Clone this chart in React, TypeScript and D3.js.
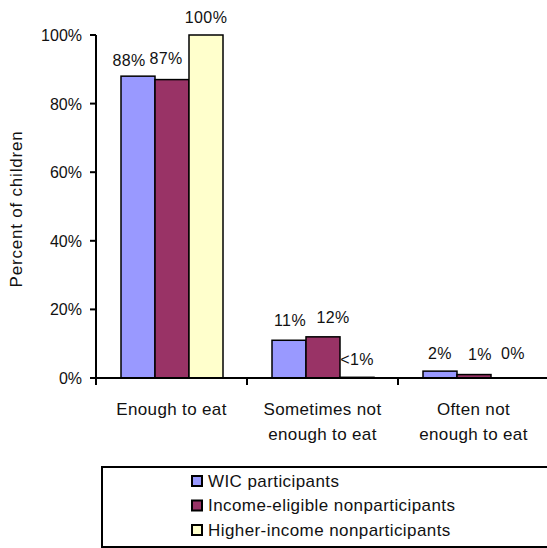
import React from "react";
import * as d3 from "d3";

// Food sufficiency by WIC participation status
const categories = ["Enough to eat", "Sometimes not enough to eat", "Often not enough to eat"];
const categoryLines = [["Enough to eat"], ["Sometimes not", "enough to eat"], ["Often not", "enough to eat"]];
const series = ["WIC participants", "Income-eligible nonparticipants", "Higher-income nonparticipants"];
const wicValues = [88, 11, 2];
const eligibleValues = [87, 12, 1];
const higherValues = [100, 0.2, 0];
const valueLabels = [
  ["88%", "87%", "100%"],
  ["11%", "12%", "<1%"],
  ["2%", "1%", "0%"],
];
const yTicks = [0, 20, 40, 60, 80, 100];

const colors = ["#9999FF", "#993366", "#FFFFCC"];
// label nudges [dx, dy] so neighbouring labels don't collide
const labelNudge = [
  [[-9, 0], [-6, -6], [0, -2]],
  [[1, -4], [10, -4], [0, -2]],
  [[0, -2], [6, -5], [5, -9]],
];

const W = 547;
const H = 548;
const FONT = "'Liberation Sans', Arial, sans-serif";

export default function App() {
  const values = [wicValues, eligibleValues, higherValues];
  const y = d3.scaleLinear().domain([0, 100]).range([378, 35]);
  const x0 = d3.scaleBand<string>().domain(categories).range([96, 549]);
  const x1 = d3.scaleBand<string>().domain(series).range([25, 127]);
  const fmt = d3.format(".0%");

  return (
    <svg
      width={W}
      height={H}
      style={{ position: "absolute", left: 0, top: 0, background: "#fff" }}
      fontFamily={FONT}
    >
      {/* bars */}
      {categories.map((c, ci) =>
        series.map((s, si) => {
          const v = values[si][ci];
          const bx = (x0(c) ?? 0) + (x1(s) ?? 0);
          return (
            <rect
              key={c + s}
              x={bx}
              y={y(v)}
              width={x1.bandwidth()}
              height={y(0) - y(v)}
              fill={colors[si]}
              stroke="#000"
              strokeWidth={1.5}
            />
          );
        })
      )}
      {/* value labels */}
      {categories.map((c, ci) =>
        series.map((s, si) => {
          const v = values[si][ci];
          const cx = (x0(c) ?? 0) + (x1(s) ?? 0) + x1.bandwidth() / 2;
          const [dx, dy] = labelNudge[ci][si];
          return (
            <text
              key={"l" + c + s}
              x={cx + dx}
              y={y(v) - 10 + dy}
              textAnchor="middle"
              fontSize={16}
              letterSpacing={0.4}
              fill="#111"
            >
              {valueLabels[ci][si]}
            </text>
          );
        })
      )}
      {/* y axis */}
      <line x1={96} x2={96} y1={y(100)} y2={y(0)} stroke="#000" strokeWidth={2} />
      {yTicks.map((t) => (
        <g key={t}>
          <line x1={90} x2={96} y1={y(t)} y2={y(t)} stroke="#000" strokeWidth={2} />
          <text x={82} y={y(t) + 6} textAnchor="end" fontSize={16} fill="#111">
            {fmt(t / 100)}
          </text>
        </g>
      ))}
      <text
        transform={`translate(22,209) rotate(-90)`}
        textAnchor="middle"
        fontSize={17}
        letterSpacing={0.8}
        fill="#111"
      >
        Percent of children
      </text>
      {/* x axis */}
      <line x1={90} x2={549} y1={y(0)} y2={y(0)} stroke="#000" strokeWidth={2} />
      {categories.map((c) => (
        <line
          key={"t" + c}
          x1={x0(c) ?? 0}
          x2={x0(c) ?? 0}
          y1={y(0)}
          y2={y(0) + 7}
          stroke="#000"
          strokeWidth={2}
        />
      ))}
      {categories.map((c, ci) => (
        <text
          key={"c" + c}
          x={(x0(c) ?? 0) + x0.bandwidth() / 2}
          textAnchor="middle"
          fontSize={17}
          letterSpacing={0.35}
          fill="#111"
        >
          {categoryLines[ci].map((ln, li) => (
            <tspan key={li} x={(x0(c) ?? 0) + x0.bandwidth() / 2} y={415 + li * 25}>
              {ln}
            </tspan>
          ))}
        </text>
      ))}
      {/* legend */}
      <rect x={102} y={467} width={460} height={80} fill="#fff" stroke="#000" strokeWidth={2} />
      {series.map((s, si) => (
        <g key={"lg" + s} transform={`translate(192,${481 + si * 24.5})`}>
          <rect x={0} y={-5} width={10} height={10} fill={colors[si]} stroke="#000" strokeWidth={2} />
          <text x={16} y={5.5} fontSize={17} letterSpacing={0.42} fill="#111">
            {s}
          </text>
        </g>
      ))}
    </svg>
  );
}
